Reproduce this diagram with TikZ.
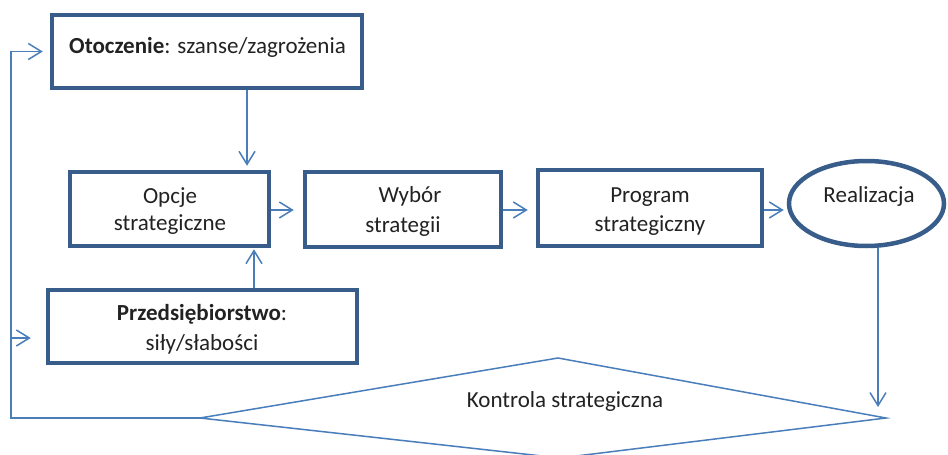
\documentclass[tikz,border=0pt]{standalone}
\usepackage{fontspec}
\setmainfont{Carlito}
\usetikzlibrary{arrows.meta,shapes.geometric}
\definecolor{boxc}{HTML}{385D8A}
\definecolor{linec}{HTML}{4A7EBB}
\definecolor{txt}{HTML}{222222}
\begin{document}
\begin{tikzpicture}[x=1pt,y=-1pt,
  box/.style={draw=boxc, line width=4.5pt, inner sep=0pt, rectangle},
  oval/.style={draw=boxc, line width=4.5pt, inner sep=0pt, ellipse},
  lbl/.style={anchor=base, text=txt, inner sep=0pt, font=\fontsize{23}{27}\selectfont},
  conn/.style={draw=linec, line width=1.5pt},
  arr/.style={conn, -{Straight Barb[length=13pt,width=16pt]}}]
\useasboundingbox (0,0) rectangle (948,455);
\clip (0,0) rectangle (948,455);

% boxes
\node[box, minimum width=310pt, minimum height=73pt] (oto) at (207,51.5) {};
\node[box, minimum width=199pt, minimum height=74pt] (opc) at (169.5,209) {};
\node[box, minimum width=196pt, minimum height=75pt] (wyb) at (403,209.5) {};
\node[box, minimum width=224pt, minimum height=76pt] (prg) at (650,208) {};
\node[box, minimum width=309pt, minimum height=73pt] (prz) at (202.5,326.5) {};
\node[oval, minimum width=155pt, minimum height=85pt] (rea) at (866.5,203.5) {};

% control diamond
\coordinate (kL) at (200,418);
\coordinate (kT) at (558,358);
\coordinate (kR) at (886,418);
\coordinate (kB) at (560,458);
\draw[conn, line join=miter] (kL) -- (kT) -- (kR) -- (kB) -- cycle;

% labels
\node[lbl] (otoT) at (207.5,53) {\textbf{Otoczenie}: szanse/zagrożenia};
\node[lbl] (opcA) at (170,203) {Opcje};
\node[lbl] (opcB) at (170,230) {strategiczne};
\node[lbl] (wybA) at (410,202) {Wybór};
\node[lbl] (wybB) at (403,232) {strategii};
\node[lbl] (prgA) at (650,202) {Program};
\node[lbl] (prgB) at (650,231) {strategiczny};
\node[lbl] (przA) at (202,320) {\textbf{Przedsiębiorstwo}:};
\node[lbl] (przB) at (202,350) {siły/słabości};
\node[lbl] (reaT) at (869,202) {Realizacja};
\node[lbl] (ko) at (565,407) {Kontrola strategiczna};

% connector guides
\coordinate (xo) at (247,0);
\coordinate (xp) at (254,0);
\coordinate (yf) at (0,210);
\coordinate (kt) at (878,407);
\coordinate (fbB) at (11,418);
\coordinate (fbP) at (11,338);

% flow arrows
\draw[arr, shorten >=4pt] (xo |- oto.south) -- (xo |- opc.north);
\draw[arr, shorten >=1pt] (xp |- prz.north) -- (xp |- opc.south);
\draw[arr, shorten >=9pt] (opc.east |- yf) -- (wyb.west |- yf);
\draw[arr, shorten >=8pt] (wyb.east |- yf) -- (prg.west |- yf);
\draw[arr, shorten >=3pt] (prg.east |- yf) -- (rea.west |- yf);
\draw[arr] (kt |- rea.south) -- (kt);

% feedback loop
\draw[arr, shorten >=7pt] (kL) -- (fbB) |- (oto.west);
\draw[arr, shorten >=15pt] (fbP) -- (fbP -| prz.west);
\end{tikzpicture}
\end{document}
